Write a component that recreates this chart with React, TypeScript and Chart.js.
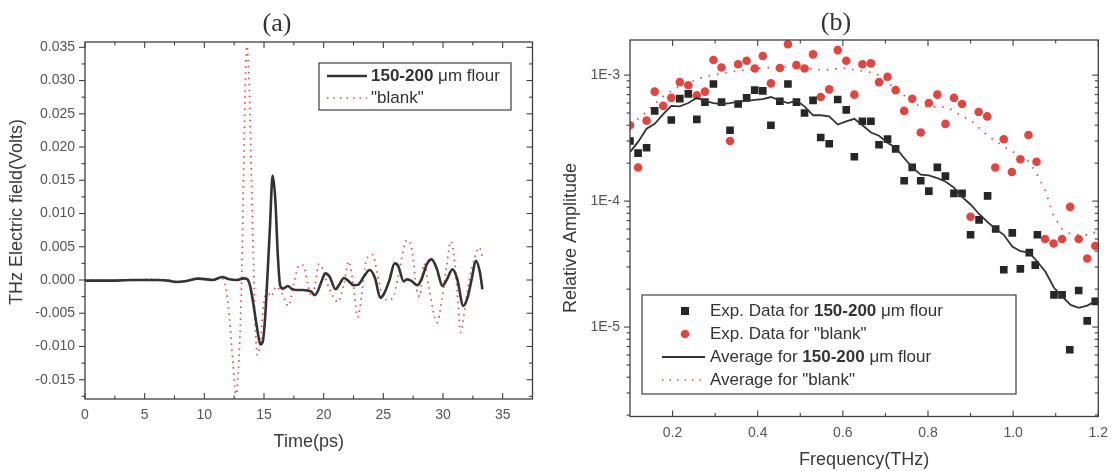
import React, { useEffect, useRef } from 'react';
import { Chart, registerables } from 'chart.js';

Chart.register(...registerables);

const SANS = '"Liberation Sans", Arial, Helvetica, sans-serif';
const SERIF = '"Liberation Serif", "Times New Roman", serif';
const INK = '#3a3a3a';
const TICK_INK = '#555';
const RED = '#e2453f';

// ---------------- Panel (a): time domain ----------------
const timeSample = [0, 2, 4, 6, 7, 7.6, 8.4, 9.5, 10.2, 10.7, 11.5, 12.1, 12.7, 13.3, 13.6, 13.85, 14.1, 14.4, 14.7, 14.9, 15.1, 15.3, 15.5, 15.72, 15.95, 16.15, 16.35, 16.6, 17.0, 17.3, 17.7, 18.2, 18.7, 19.0, 19.25, 19.5, 19.8, 20.15, 20.5, 21.0, 21.3, 21.7, 22.05, 22.5, 22.9, 23.4, 23.85, 24.3, 24.75, 25.05, 25.5, 25.95, 26.25, 26.7, 27.0, 27.4, 27.85, 28.2, 28.65, 29.05, 29.5, 29.95, 30.3, 30.8, 31.2, 31.7, 32.05, 32.4, 32.75, 33.1, 33.3];
const fieldSample = [-0.0001, -0.0001, 0, 0, -0.0001, -0.0003, -0.0002, 0.0002, 0.0001, 0, 0.00045, 0.0001, 0, 0.00025, 0.0001, -0.001, -0.0035, -0.007, -0.0097, -0.0092, -0.0055, 0.001, 0.008, 0.0157, 0.012, 0.004, -0.0008, -0.0013, -0.0009, -0.0013, -0.0015, -0.0015, -0.0016, -0.0018, -0.0023, -0.0017, -0.0003, 0.001, 0.0005, -0.0014, -0.0007, 0.0003, -0.0001, -0.0008, -0.0007, 0.0006, 0.0015, 0.0003, -0.0027, -0.0021, -0.0001, 0.0025, 0.0021, -0.0002, 0.0001, -0.0002, -0.0008, 0.0001, 0.0024, 0.0031, 0.0016, -0.0009, 0, 0.0016, 0.0001, -0.0039, -0.0027, 0.0001, 0.0029, 0.0011, -0.0014];

const timeBlank = [0, 2, 4, 5.5, 6.5, 7.5, 8.5, 9.3, 10, 10.7, 11.4, 11.8, 12.1, 12.4, 12.65, 12.9, 13.15, 13.35, 13.55, 13.75, 13.95, 14.1, 14.25, 14.45, 14.7, 14.95, 15.2, 15.6, 16.0, 16.5, 17.05, 17.5, 17.95, 18.3, 18.65, 19.0, 19.3, 19.6, 19.9, 20.3, 20.8, 21.2, 21.7, 22.1, 22.5, 22.85, 23.2, 23.55, 24.1, 24.5, 24.85, 25.3, 25.8, 26.3, 26.8, 27.05, 27.4, 27.8, 28.05, 28.4, 28.8, 29.5, 29.9, 30.3, 30.65, 30.9, 31.2, 31.5, 31.85, 32.2, 32.6, 33.05, 33.3];
const fieldBlank = [0, 0, 0, 0.0001, 0, -0.0002, -0.0001, 0.0002, 0.0002, 0, 0.0003, -0.0012, -0.0055, -0.0125, -0.0172, -0.012, 0.002, 0.022, 0.0352, 0.03, 0.015, 0.004, -0.006, -0.0113, -0.009, -0.004, -0.0015, -0.0025, -0.001, -0.002, -0.0039, -0.0005, 0.0022, 0.0022, -0.0005, -0.0025, -0.0005, 0.0024, 0.0018, -0.0005, -0.0025, -0.0033, -0.0005, 0.0028, -0.001, -0.0056, -0.002, 0.0028, 0.0038, 0.001, -0.002, -0.003, -0.0027, 0.001, 0.0055, 0.006, 0.0045, -0.0015, -0.0025, 0.0025, -0.001, -0.0064, -0.003, 0.002, 0.0058, 0.004, -0.002, -0.0079, -0.004, 0, 0.003, 0.0049, 0.0035];

const timeTicks = [0, 5, 10, 15, 20, 25, 30, 35];
const timeMinorTicks = [2.5, 7.5, 12.5, 17.5, 22.5, 27.5, 32.5];
const fieldTicks = [-0.015, -0.01, -0.005, 0, 0.005, 0.01, 0.015, 0.02, 0.025, 0.03, 0.035];
const fieldMinorTicks = [-0.0175, -0.0125, -0.0075, -0.0025, 0.0025, 0.0075, 0.0125, 0.0175, 0.0225, 0.0275, 0.0325];

// ---------------- Panel (b): frequency domain ----------------
const freqSampleExp = [0.100, 0.119, 0.139, 0.158, 0.197, 0.217, 0.237, 0.257, 0.276, 0.296, 0.315, 0.335, 0.354, 0.374, 0.393, 0.412, 0.431, 0.452, 0.471, 0.491, 0.510, 0.530, 0.548, 0.568, 0.588, 0.608, 0.627, 0.646, 0.666, 0.685, 0.705, 0.724, 0.744, 0.763, 0.783, 0.802, 0.822, 0.841, 0.861, 0.880, 0.900, 0.920, 0.940, 0.959, 0.978, 0.998, 1.017, 1.038, 1.052, 1.057, 1.096, 1.115, 1.133, 1.154, 1.174, 1.193];
const ampSampleExp = [3.0e-4, 2.4e-4, 2.65e-4, 5.2e-4, 4.4e-4, 6.5e-4, 7.1e-4, 4.45e-4, 6.1e-4, 8.5e-4, 6.1e-4, 3.65e-4, 5.9e-4, 6.6e-4, 7.6e-4, 7.5e-4, 4.0e-4, 6.2e-4, 8.5e-4, 6.1e-4, 5.0e-4, 6.3e-4, 3.2e-4, 2.85e-4, 6.4e-4, 5.3e-4, 2.25e-4, 4.3e-4, 4.3e-4, 2.8e-4, 3.1e-4, 2.6e-4, 1.45e-4, 1.85e-4, 1.45e-4, 1.2e-4, 1.85e-4, 1.58e-4, 1.15e-4, 1.15e-4, 5.4e-5, 7.1e-5, 1.1e-4, 6.0e-5, 2.85e-5, 5.6e-5, 2.9e-5, 3.9e-5, 3.1e-5, 5.4e-5, 1.8e-5, 1.8e-5, 6.6e-6, 1.95e-5, 1.12e-5, 1.6e-5];

const freqBlankExp = [0.100, 0.119, 0.139, 0.158, 0.178, 0.197, 0.217, 0.237, 0.257, 0.276, 0.296, 0.315, 0.335, 0.354, 0.374, 0.393, 0.412, 0.431, 0.452, 0.471, 0.491, 0.510, 0.530, 0.548, 0.568, 0.588, 0.608, 0.627, 0.646, 0.666, 0.685, 0.705, 0.724, 0.744, 0.763, 0.783, 0.802, 0.822, 0.841, 0.861, 0.880, 0.900, 0.919, 0.939, 0.958, 0.978, 0.997, 1.017, 1.036, 1.055, 1.075, 1.095, 1.115, 1.134, 1.154, 1.174, 1.193];
const ampBlankExp = [4.0e-4, 1.85e-4, 4.35e-4, 7.4e-4, 5.7e-4, 6.6e-4, 8.8e-4, 8.3e-4, 6.9e-4, 7.4e-4, 1.32e-3, 1.15e-3, 3.0e-4, 1.22e-3, 1.3e-3, 1.13e-3, 1.42e-3, 8.6e-4, 1.14e-3, 1.76e-3, 1.2e-3, 1.13e-3, 1.46e-3, 6.7e-4, 7.7e-4, 1.58e-3, 1.3e-3, 7.0e-4, 1.22e-3, 1.24e-3, 8.8e-4, 9.7e-4, 7.6e-4, 5.2e-4, 6.5e-4, 3.5e-4, 6.0e-4, 7.0e-4, 4.1e-4, 6.6e-4, 5.9e-4, 7.5e-5, 5.1e-4, 4.7e-4, 1.85e-4, 3.1e-4, 1.7e-4, 2.15e-4, 3.35e-4, 2.05e-4, 5.0e-5, 4.6e-5, 5.0e-5, 9.0e-5, 5.0e-5, 3.5e-5, 4.4e-5];

const freqAvg = [0.100, 0.119, 0.139, 0.158, 0.178, 0.197, 0.217, 0.237, 0.257, 0.276, 0.296, 0.315, 0.335, 0.354, 0.374, 0.393, 0.412, 0.431, 0.452, 0.471, 0.491, 0.510, 0.530, 0.548, 0.568, 0.588, 0.608, 0.627, 0.646, 0.666, 0.685, 0.705, 0.724, 0.744, 0.763, 0.783, 0.802, 0.822, 0.841, 0.861, 0.880, 0.900, 0.920, 0.940, 0.959, 0.978, 0.998, 1.017, 1.038, 1.057, 1.076, 1.096, 1.115, 1.135, 1.154, 1.174, 1.197];
const ampSampleAvg = [2.45e-4, 2.95e-4, 3.75e-4, 4.1e-4, 4.9e-4, 5.7e-4, 5.65e-4, 6.0e-4, 6.6e-4, 6.25e-4, 6.0e-4, 5.9e-4, 6.0e-4, 6.15e-4, 6.25e-4, 6.35e-4, 6.45e-4, 6.7e-4, 6.3e-4, 6.0e-4, 6.25e-4, 5.65e-4, 4.8e-4, 4.8e-4, 4.7e-4, 4.05e-4, 4.3e-4, 4.5e-4, 4.0e-4, 3.5e-4, 3.3e-4, 2.9e-4, 2.65e-4, 2.2e-4, 1.85e-4, 1.62e-4, 1.6e-4, 1.52e-4, 1.43e-4, 1.28e-4, 1.08e-4, 9.4e-5, 7.9e-5, 6.8e-5, 6.0e-5, 5.4e-5, 4.35e-5, 4.0e-5, 3.9e-5, 3.3e-5, 2.75e-5, 2.05e-5, 1.75e-5, 1.5e-5, 1.42e-5, 1.48e-5, 1.63e-5];
const ampBlankAvg = [4.1e-4, 4.5e-4, 5.1e-4, 5.9e-4, 6.8e-4, 7.5e-4, 8.2e-4, 8.7e-4, 9.2e-4, 9.8e-4, 1.0e-3, 1.03e-3, 1.06e-3, 1.08e-3, 1.1e-3, 1.12e-3, 1.14e-3, 1.15e-3, 1.16e-3, 1.16e-3, 1.16e-3, 1.14e-3, 1.12e-3, 1.1e-3, 1.1e-3, 1.13e-3, 1.13e-3, 1.1e-3, 1.08e-3, 1.05e-3, 1.0e-3, 8.8e-4, 7.7e-4, 6.9e-4, 5.9e-4, 5.7e-4, 5.6e-4, 5.6e-4, 5.6e-4, 5.2e-4, 4.7e-4, 4.4e-4, 3.8e-4, 3.3e-4, 3.0e-4, 2.7e-4, 2.5e-4, 2.25e-4, 2.05e-4, 1.6e-4, 1.2e-4, 7.5e-5, 6.0e-5, 5.5e-5, 5.4e-5, 5.4e-5, 5.7e-5];

const freqTicks = [0.2, 0.4, 0.6, 0.8, 1.0, 1.2];
const freqMinorTicks = [0.3, 0.5, 0.7, 0.9, 1.1];
const ampTicks = [1e-5, 1e-4, 1e-3];
const ampMinorTicks = [2e-6, 3e-6, 4e-6, 5e-6, 6e-6, 7e-6, 8e-6, 9e-6, 2e-5, 3e-5, 4e-5, 5e-5, 6e-5, 7e-5, 8e-5, 9e-5, 2e-4, 3e-4, 4e-4, 5e-4, 6e-4, 7e-4, 8e-4, 9e-4];

const pts = (xs: number[], ys: number[]) => xs.map((x, i) => ({ x, y: ys[i] }));

function drawFrameAndTicks(chart: any, xMaj: number[], xMin: number[], yMaj: number[], yMin: number[]) {
  const { ctx, chartArea: a, scales } = chart;
  const xs = scales.x;
  const ys = scales.y;
  const MAJ = 6;
  const MIN = 3.5;
  ctx.save();
  ctx.strokeStyle = '#404040';
  ctx.lineWidth = 1.3;
  ctx.strokeRect(a.left, a.top, a.right - a.left, a.bottom - a.top);
  ctx.lineWidth = 1.1;
  const seg = (x1: number, y1: number, x2: number, y2: number) => {
    ctx.beginPath();
    ctx.moveTo(x1, y1);
    ctx.lineTo(x2, y2);
    ctx.stroke();
  };
  const xt = (vals: number[], len: number) => {
    for (const v of vals) {
      const px = xs.getPixelForValue(v);
      seg(px, a.bottom, px, a.bottom - len);
      seg(px, a.top, px, a.top + len);
    }
  };
  const yt = (vals: number[], len: number) => {
    for (const v of vals) {
      const py = ys.getPixelForValue(v);
      seg(a.left, py, a.left - len, py);
      seg(a.right, py, a.right - len, py);
    }
  };
  xt(xMaj, MAJ);
  xt(xMin, MIN);
  yt(yMaj, MAJ);
  yt(yMin, MIN);
  ctx.restore();
}

function drawRich(ctx: CanvasRenderingContext2D, parts: [string, boolean][], x: number, y: number, size: number) {
  let cx = x;
  for (const [txt, bold] of parts) {
    ctx.font = `${bold ? 'bold ' : ''}${size}px ${SANS}`;
    ctx.fillText(txt, cx, y);
    cx += ctx.measureText(txt).width;
  }
}

function drawYTitle(ctx: CanvasRenderingContext2D, text: string, x: number, y: number) {
  ctx.save();
  ctx.translate(x, y);
  ctx.rotate(-Math.PI / 2);
  ctx.fillStyle = INK;
  ctx.font = `18px ${SANS}`;
  ctx.textAlign = 'center';
  ctx.textBaseline = 'middle';
  ctx.fillText(text, 0, 0);
  ctx.restore();
}

function PanelA() {
  const ref = useRef<HTMLCanvasElement | null>(null);
  useEffect(() => {
    const decor = {
      id: 'decorA',
      afterDraw(chart: any) {
        drawFrameAndTicks(chart, timeTicks, timeMinorTicks, fieldTicks, fieldMinorTicks);
        const ctx: CanvasRenderingContext2D = chart.ctx;
        drawYTitle(ctx, 'THz Electric field(Volts)', 17, 212);
        ctx.save();
        // panel title
        ctx.fillStyle = '#333';
        ctx.font = `26px ${SERIF}`;
        ctx.textAlign = 'center';
        ctx.textBaseline = 'middle';
        ctx.fillText('(a)', 277, 24);
        // legend
        ctx.fillStyle = '#fff';
        ctx.fillRect(319, 63, 192, 47);
        ctx.strokeStyle = '#404040';
        ctx.lineWidth = 1.2;
        ctx.strokeRect(319, 63, 192, 47);
        ctx.strokeStyle = '#333';
        ctx.lineWidth = 2.4;
        ctx.beginPath();
        ctx.moveTo(327, 76);
        ctx.lineTo(367, 76);
        ctx.stroke();
        ctx.strokeStyle = RED;
        ctx.lineWidth = 1.6;
        ctx.setLineDash([1.5, 5]);
        ctx.beginPath();
        ctx.moveTo(327, 98);
        ctx.lineTo(367, 98);
        ctx.stroke();
        ctx.setLineDash([]);
        ctx.fillStyle = '#333';
        ctx.textAlign = 'left';
        ctx.textBaseline = 'middle';
        drawRich(ctx, [['150-200', true], [' \u03bcm flour', false]], 371, 76, 17);
        drawRich(ctx, [['"blank"', false]], 371, 98, 17);
        ctx.restore();
      },
    };
    const chart = new Chart(ref.current as HTMLCanvasElement, {
      type: 'scatter',
      data: {
        datasets: [
          {
            label: '150-200 \u03bcm flour',
            data: pts(timeSample, fieldSample),
            showLine: true,
            borderColor: '#333',
            borderWidth: 2.6,
            pointRadius: 0,
            cubicInterpolationMode: 'monotone',
            clip: 0,
          } as any,
          {
            label: '"blank"',
            data: pts(timeBlank, fieldBlank),
            showLine: true,
            borderColor: RED,
            borderWidth: 1.7,
            borderDash: [1.5, 4.5],
            pointRadius: 0,
            cubicInterpolationMode: 'monotone',
            clip: 0,
          } as any,
        ],
      },
      options: {
        responsive: false,
        animation: false,
        events: [],
        layout: { padding: { left: 0, top: 42, right: 27.5, bottom: 0 } },
        plugins: { legend: { display: false }, tooltip: { enabled: false }, title: { display: false } },
        scales: {
          x: {
            type: 'linear',
            min: 0,
            max: 37.5,
            grid: { display: false, drawTicks: false },
            border: { display: false },
            afterFit: (s: any) => { s.height = 72; },
            afterBuildTicks: (s: any) => { s.ticks = timeTicks.map((v) => ({ value: v })); },
            ticks: {
              autoSkip: false,
              maxRotation: 0,
              padding: 8,
              color: TICK_INK,
              font: { family: SANS, size: 14 },
              callback: (v: any) => String(v),
            },
            title: {
              display: true,
              text: 'Time(ps)',
              color: INK,
              font: { family: SANS, size: 18 },
              padding: { top: 0, bottom: 18 },
            },
          },
          y: {
            type: 'linear',
            min: -0.0179,
            max: 0.0358,
            grid: { display: false, drawTicks: false },
            border: { display: false },
            afterFit: (s: any) => { s.width = 85; },
            afterBuildTicks: (s: any) => { s.ticks = fieldTicks.map((v) => ({ value: v })); },
            ticks: {
              autoSkip: false,
              padding: 10,
              color: TICK_INK,
              font: { family: SANS, size: 14 },
              callback: (v: any) => Number(v).toFixed(3),
            },
            title: { display: false },
          },
        },
      } as any,
      plugins: [decor],
    });
    return () => chart.destroy();
  }, []);
  return <canvas ref={ref} width={560} height={471} style={{ position: 'absolute', left: 0, top: 0 }} />;
}

function PanelB() {
  const ref = useRef<HTMLCanvasElement | null>(null);
  useEffect(() => {
    const decor = {
      id: 'decorB',
      afterDraw(chart: any) {
        drawFrameAndTicks(chart, freqTicks, freqMinorTicks, ampTicks, ampMinorTicks);
        const ctx: CanvasRenderingContext2D = chart.ctx;
        const ox = -560;
        drawYTitle(ctx, 'Relative Amplitude', 11, 238);
        ctx.save();
        ctx.fillStyle = '#333';
        ctx.font = `26px ${SERIF}`;
        ctx.textAlign = 'center';
        ctx.textBaseline = 'middle';
        ctx.fillText('(b)', 836 + ox, 23);
        // legend box
        const bx = 642 + ox, by = 295, bw = 374, bh = 99;
        ctx.fillStyle = '#fff';
        ctx.fillRect(bx, by, bw, bh);
        ctx.strokeStyle = '#404040';
        ctx.lineWidth = 1.2;
        ctx.strokeRect(bx, by, bw, bh);
        const mx = 685 + ox;
        const rows = [311, 334, 357, 380];
        ctx.fillStyle = '#262626';
        ctx.fillRect(mx - 4, rows[0] - 4, 8, 8);
        ctx.fillStyle = RED;
        ctx.beginPath();
        ctx.arc(mx, rows[1], 4.3, 0, Math.PI * 2);
        ctx.fill();
        ctx.strokeStyle = '#333';
        ctx.lineWidth = 1.8;
        ctx.beginPath();
        ctx.moveTo(662 + ox, rows[2]);
        ctx.lineTo(705 + ox, rows[2]);
        ctx.stroke();
        ctx.strokeStyle = RED;
        ctx.lineWidth = 1.6;
        ctx.setLineDash([1.5, 6]);
        ctx.beginPath();
        ctx.moveTo(662 + ox, rows[3]);
        ctx.lineTo(705 + ox, rows[3]);
        ctx.stroke();
        ctx.setLineDash([]);
        ctx.fillStyle = '#333';
        ctx.textAlign = 'left';
        ctx.textBaseline = 'middle';
        const tx = 710 + ox;
        drawRich(ctx, [['Exp. Data for ', false], ['150-200', true], [' \u03bcm flour', false]], tx, rows[0], 17);
        drawRich(ctx, [['Exp. Data for "blank"', false]], tx, rows[1], 17);
        drawRich(ctx, [['Average for ', false], ['150-200', true], [' \u03bcm flour', false]], tx, rows[2], 17);
        drawRich(ctx, [['Average for "blank"', false]], tx, rows[3], 17);
        ctx.restore();
      },
    };
    const chart = new Chart(ref.current as HTMLCanvasElement, {
      type: 'scatter',
      data: {
        datasets: [
          {
            label: 'Average for 150-200 \u03bcm flour',
            data: pts(freqAvg, ampSampleAvg),
            showLine: true,
            borderColor: '#333',
            borderWidth: 1.8,
            pointRadius: 0,
            tension: 0,
            clip: 0,
          } as any,
          {
            label: 'Average for "blank"',
            data: pts(freqAvg, ampBlankAvg),
            showLine: true,
            borderColor: RED,
            borderWidth: 1.7,
            borderDash: [1.5, 7],
            pointRadius: 0,
            tension: 0,
            clip: 0,
          } as any,
          {
            label: 'Exp. Data for 150-200 \u03bcm flour',
            data: pts(freqSampleExp, ampSampleExp),
            showLine: false,
            pointStyle: 'rect',
            pointRadius: 5.4,
            backgroundColor: '#262626',
            borderColor: '#262626',
            borderWidth: 0,
            clip: 0,
          } as any,
          {
            label: 'Exp. Data for "blank"',
            data: pts(freqBlankExp, ampBlankExp),
            showLine: false,
            pointStyle: 'circle',
            pointRadius: 4.3,
            backgroundColor: RED,
            borderColor: RED,
            borderWidth: 0,
            clip: 0,
          } as any,
        ],
      },
      options: {
        responsive: false,
        animation: false,
        events: [],
        layout: { padding: { left: 0, top: 40, right: 15, bottom: 0 } },
        plugins: { legend: { display: false }, tooltip: { enabled: false }, title: { display: false } },
        scales: {
          x: {
            type: 'linear',
            min: 0.1,
            max: 1.2,
            grid: { display: false, drawTicks: false },
            border: { display: false },
            afterFit: (s: any) => { s.height = 54.5; },
            afterBuildTicks: (s: any) => { s.ticks = freqTicks.map((v) => ({ value: v })); },
            ticks: {
              autoSkip: false,
              maxRotation: 0,
              padding: 8,
              color: TICK_INK,
              font: { family: SANS, size: 14 },
              callback: (v: any) => Number(v).toFixed(1),
            },
            title: {
              display: true,
              text: 'Frequency(THz)',
              color: INK,
              font: { family: SANS, size: 18 },
              padding: { top: 0, bottom: 0 },
            },
          },
          y: {
            type: 'logarithmic',
            min: 1.95e-6,
            max: 1.9e-3,
            grid: { display: false, drawTicks: false },
            border: { display: false },
            afterFit: (s: any) => { s.width = 70; },
            afterBuildTicks: (s: any) => { s.ticks = ampTicks.map((v) => ({ value: v })); },
            ticks: {
              autoSkip: false,
              padding: 10,
              color: TICK_INK,
              font: { family: SANS, size: 14 },
              callback: (v: any) => '1E' + Math.round(Math.log10(Number(v))),
            },
            title: { display: false },
          },
        },
      } as any,
      plugins: [decor],
    });
    return () => chart.destroy();
  }, []);
  return <canvas ref={ref} width={556} height={471} style={{ position: 'absolute', left: 560, top: 0 }} />;
}

export default function App() {
  return (
    <div style={{ position: 'absolute', left: 0, top: 0, width: 1116, height: 471, background: '#fff', overflow: 'hidden' }}>
      <PanelA />
      <PanelB />
    </div>
  );
}
